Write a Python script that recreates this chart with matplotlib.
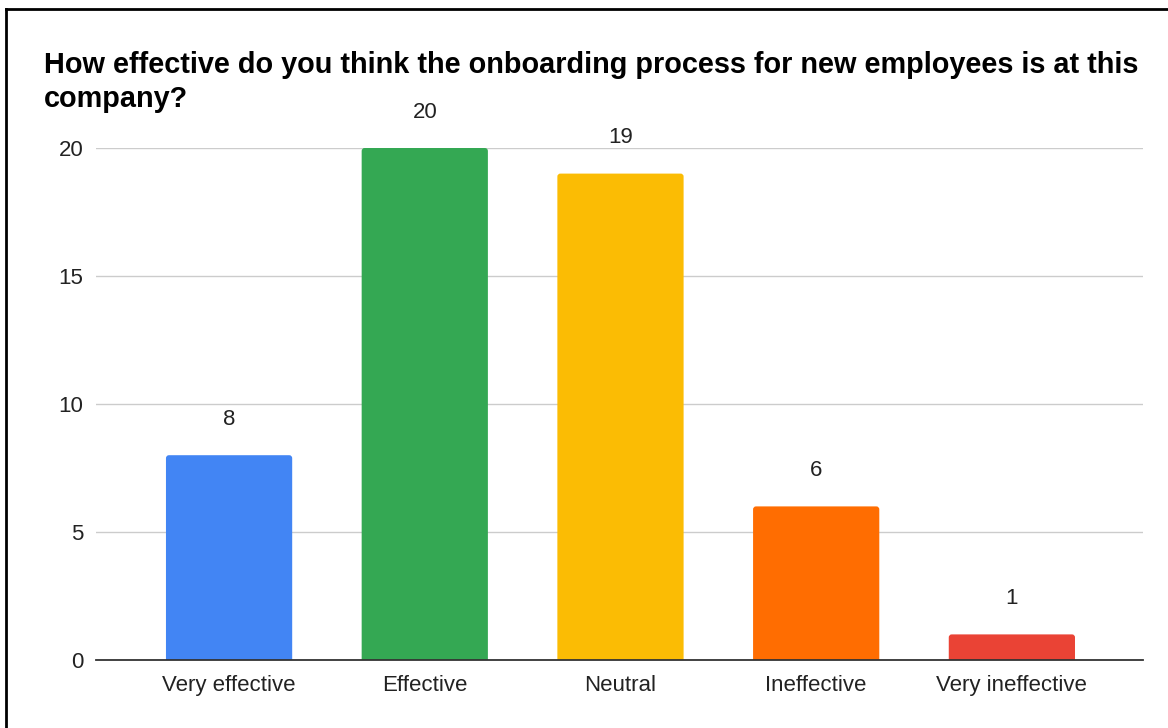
import matplotlib.pyplot as plt
from matplotlib.lines import Line2D
from matplotlib.patches import FancyBboxPatch

# survey answers and counts
answers = ["Very effective", "Effective", "Neutral", "Ineffective", "Very ineffective"]
counts = [8, 20, 19, 6, 1]
bar_colors = ["#4285F4", "#34A853", "#FBBC04", "#FF6D01", "#EA4335"]
y_ticks = [0, 5, 10, 15, 20]

plt.rcParams['font.family'] = ['Liberation Sans', 'DejaVu Sans']

W, H = 1168, 728
fig = plt.figure(figsize=(W / 100, H / 100), dpi=100)
ax = fig.add_axes([96 / W, 1 - 660 / H, (1143 - 96) / W, (660 - 148) / H])

ax.set_xlim(-0.68, 4.67)
ax.set_ylim(0, 20)

pos = range(len(answers))
bars = ax.bar(pos, counts, width=0.645, color=bar_colors, zorder=3)

# swap the square bars for ones with slightly rounded tops
px_x = (1143 - 96) / (4.67 + 0.68)
px_y = (660 - 148) / 20
for b in bars:
    b.set_visible(False)
    rb = FancyBboxPatch((b.get_x(), -1), b.get_width(), b.get_height() + 1,
                        boxstyle="round,pad=0,rounding_size=%f" % (3 / px_x),
                        mutation_aspect=px_x / px_y,
                        facecolor=b.get_facecolor(), edgecolor='none', zorder=3)
    ax.add_patch(rb)

for b, v in zip(bars, counts):
    ax.text(b.get_x() + b.get_width() / 2, v + 1.4, str(v), ha='center', va='center',
            fontsize=16, color='#222222', clip_on=False)

ax.set_yticks(y_ticks)
ax.set_xticks(list(pos))
ax.set_xticklabels(answers)
ax.tick_params(axis='both', length=0, labelsize=16, colors='#222222')
ax.tick_params(axis='x', pad=11)
ax.tick_params(axis='y', pad=9)
ax.grid(axis='y', color='#cccccc', linewidth=1, zorder=0)
for s in ['top', 'right', 'left']:
    ax.spines[s].set_visible(False)
ax.spines['bottom'].set_color('#333333')
ax.spines['bottom'].set_linewidth(1.3)
ax.spines['bottom'].set_zorder(4)

fig.text(44 / W, 1 - 73 / H,
         "How effective do you think the onboarding process for new employees is at this",
         ha='left', va='baseline', fontsize=20.8, fontweight='bold', color='black')
fig.text(44 / W, 1 - 107 / H, "company?",
         ha='left', va='baseline', fontsize=20.8, fontweight='bold', color='black')

# frame along the left and top edges
fig.add_artist(Line2D([6 / W, 6 / W], [0, 1 - 9 / H], transform=fig.transFigure,
                      color='black', linewidth=2))
fig.add_artist(Line2D([6 / W, 1], [1 - 9 / H, 1 - 9 / H], transform=fig.transFigure,
                      color='black', linewidth=2))

fig.savefig("out.png", dpi=100)
